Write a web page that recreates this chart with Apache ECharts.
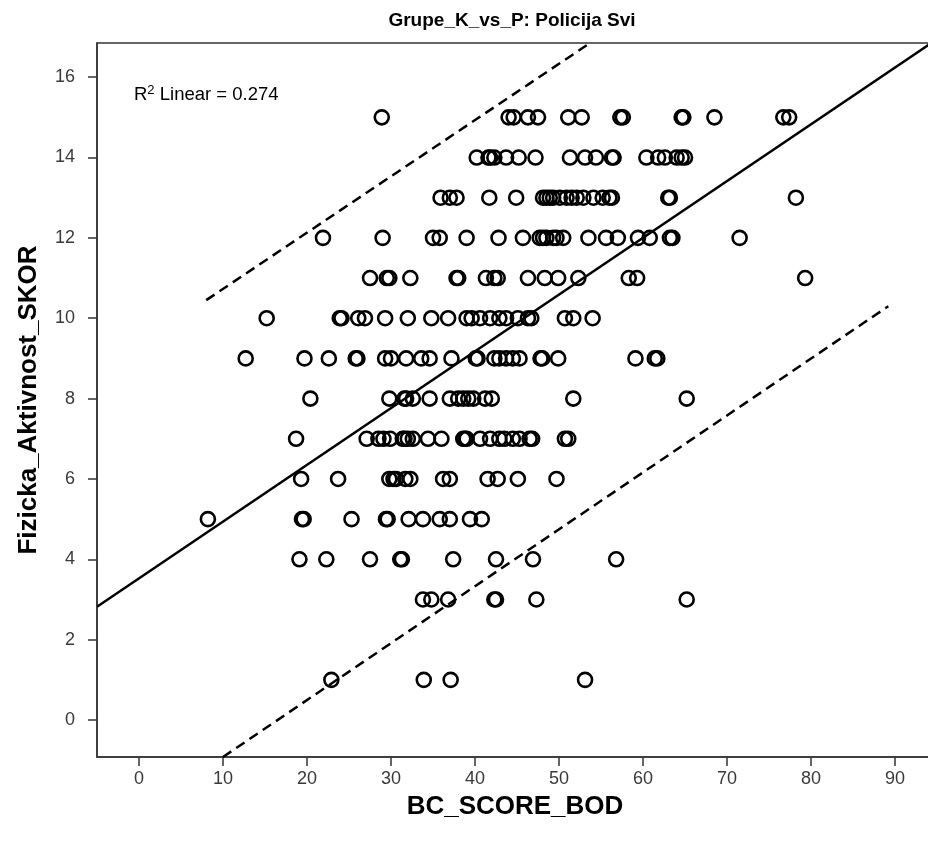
<!DOCTYPE html>
<html>
<head>
<meta charset="utf-8">
<title>Grupe_K_vs_P: Policija Svi</title>
<script src="https://cdn.jsdelivr.net/npm/echarts@6/dist/echarts.min.js"></script>
<style>
  html, body { margin: 0; padding: 0; background: #ffffff; }
  #chart { width: 928px; height: 846px; }
</style>
</head>
<body>
<div id="chart"></div>
<script>
// Axis ticks
const xTicks = [0, 10, 20, 30, 40, 50, 60, 70, 80, 90];
const yTicks = [0, 2, 4, 6, 8, 10, 12, 14, 16];

// BC_SCORE_BOD values for each Fizicka_Aktivnost_SKOR level
const bcAtSkor15 = [28.9, 44.0, 44.6, 46.3, 47.5, 51.1, 52.7, 57.3, 57.6, 64.6, 64.8, 68.5, 76.7, 77.4];
const bcAtSkor14 = [40.2, 41.6, 41.8, 42.3, 43.7, 45.2, 47.2, 51.3, 53.1, 54.4, 56.3, 56.5, 60.4, 61.8, 62.6, 64.0, 64.6, 65.0];
const bcAtSkor13 = [35.9, 37.0, 37.8, 41.7, 44.9, 48.1, 48.5, 48.9, 49.3, 50.1, 50.9, 51.5, 52.1, 52.9, 54.1, 55.2, 56.0, 56.3, 63.0, 63.2, 78.2];
const bcAtSkor12 = [21.9, 29.0, 35.0, 35.8, 39.0, 42.8, 45.7, 47.7, 48.1, 48.5, 49.3, 49.7, 50.5, 53.5, 55.6, 57.0, 59.4, 60.8, 63.2, 63.5, 71.5];
const bcAtSkor11 = [27.5, 29.5, 29.8, 32.3, 37.8, 38.0, 41.3, 42.3, 42.7, 46.3, 48.3, 49.9, 52.3, 58.3, 59.3, 79.3];
const bcAtSkor10 = [15.2, 23.9, 24.1, 26.1, 26.9, 29.3, 32.0, 34.8, 36.8, 39.0, 39.6, 40.6, 41.8, 42.9, 43.7, 45.1, 46.3, 46.7, 50.7, 51.7, 54.0];
const bcAtSkor9 = [12.7, 19.7, 22.6, 25.8, 26.0, 29.3, 30.0, 31.8, 33.6, 34.6, 37.2, 40.1, 40.3, 42.3, 42.9, 43.7, 44.5, 45.3, 47.8, 48.0, 49.9, 59.1, 61.4, 61.7];
const bcAtSkor8 = [20.4, 29.8, 31.6, 31.8, 32.6, 34.6, 37.0, 38.0, 38.6, 39.2, 39.8, 41.2, 42.0, 51.7, 65.2];
const bcAtSkor7 = [18.7, 27.1, 28.5, 29.1, 29.9, 31.4, 31.6, 32.0, 32.6, 34.4, 36.0, 38.6, 38.8, 39.0, 40.6, 41.8, 42.9, 43.5, 44.5, 45.3, 46.5, 46.8, 50.7, 51.1];
const bcAtSkor6 = [19.3, 23.7, 29.8, 30.3, 30.6, 31.7, 32.3, 36.2, 37.0, 41.5, 42.7, 45.1, 49.7];
const bcAtSkor5 = [8.2, 19.4, 19.6, 25.3, 29.4, 29.6, 32.1, 33.8, 35.8, 37.0, 39.4, 40.8];
const bcAtSkor4 = [19.1, 22.3, 27.5, 31.1, 31.3, 37.4, 42.5, 46.9, 56.8];
const bcAtSkor3 = [33.8, 34.8, 36.8, 42.3, 42.5, 47.3, 65.2];
const bcAtSkor1 = [22.9, 33.9, 37.1, 53.1];

// Fitted line and 95% individual prediction bounds (end points)
const fitLine = [[-5, 2.82], [94.6, 16.89]];
const upperBound = [[8.0, 10.45], [53.7, 16.85]];
const lowerBound = [[10.0, -0.92], [89.2, 10.30]];
const rSquared = '0.274';

const levels = [
  [15, bcAtSkor15], [14, bcAtSkor14], [13, bcAtSkor13], [12, bcAtSkor12],
  [11, bcAtSkor11], [10, bcAtSkor10], [9, bcAtSkor9], [8, bcAtSkor8],
  [7, bcAtSkor7], [6, bcAtSkor6], [5, bcAtSkor5], [4, bcAtSkor4],
  [3, bcAtSkor3], [1, bcAtSkor1]
];
const points = [];
levels.forEach(([skor, list]) => list.forEach(bc => points.push([bc, skor])));

const axisColor = '#333333';
const labelFont = 'Liberation Sans, Arial, sans-serif';

const chart = echarts.init(document.getElementById('chart'), null, { renderer: 'canvas' });

chart.setOption({
  animation: false,
  backgroundColor: '#ffffff',
  grid: {
    left: 97, top: 43, width: 836, height: 714,
    containLabel: false,
    outerBoundsMode: 'none',
    show: true, borderColor: axisColor, borderWidth: 1.5,
    backgroundColor: 'rgba(0,0,0,0)'
  },
  xAxis: {
    type: 'value',
    min: -5,
    max: 94.52,
    name: 'BC_SCORE_BOD',
    nameLocation: 'middle',
    nameGap: 37,
    nameTextStyle: { fontFamily: labelFont, fontWeight: 'bold', fontSize: 26, color: '#000' },
    axisLine: { show: true, onZero: false, lineStyle: { color: axisColor, width: 1.5 } },
    axisTick: { show: true, inside: false, customValues: xTicks, length: 9, lineStyle: { color: axisColor, width: 1.5 } },
    axisLabel: { customValues: xTicks, fontFamily: labelFont, fontSize: 18, color: '#3a3a3a', margin: 13 },
    splitLine: { show: false }
  },
  yAxis: {
    type: 'value',
    min: -0.92,
    max: 16.85,
    name: 'Fizicka_Aktivnost_SKOR',
    nameLocation: 'middle',
    nameGap: 55,
    nameTextStyle: { fontFamily: labelFont, fontWeight: 'bold', fontSize: 26, color: '#000' },
    axisLine: { show: true, onZero: false, lineStyle: { color: axisColor, width: 1.5 } },
    axisTick: { show: true, inside: false, customValues: yTicks, length: 9, lineStyle: { color: axisColor, width: 1.5 } },
    axisLabel: { customValues: yTicks, fontFamily: labelFont, fontSize: 18, color: '#3a3a3a', margin: 22 },
    splitLine: { show: false }
  },
  graphic: [
    {
      type: 'text',
      x: 512, y: 21,
      style: {
        text: 'Grupe_K_vs_P: Policija Svi',
        fontFamily: labelFont, fontWeight: 'bold', fontSize: 19,
        fill: '#000', textAlign: 'center', textVerticalAlign: 'middle'
      }
    },
    {
      type: 'text',
      x: 134, y: 84,
      style: {
        text: '{r|R}{s|2}{r| Linear = ' + rSquared + '}',
        fill: '#000',
        rich: {
          r: { fontFamily: labelFont, fontSize: 18.5, lineHeight: 22, fill: '#000' },
          s: { fontFamily: labelFont, fontSize: 13, lineHeight: 13, verticalAlign: 'top', fill: '#000' }
        }
      }
    }
  ],
  series: [
    {
      type: 'line',
      data: fitLine,
      showSymbol: false,
      lineStyle: { color: '#000', width: 2.5 },
      z: 3
    },
    {
      type: 'line',
      data: upperBound,
      showSymbol: false,
      lineStyle: { color: '#000', width: 2.5, type: [10, 6] },
      z: 3
    },
    {
      type: 'line',
      data: lowerBound,
      showSymbol: false,
      lineStyle: { color: '#000', width: 2.5, type: [10, 6] },
      z: 3
    },
    {
      type: 'scatter',
      data: points,
      symbol: 'circle',
      symbolSize: 14,
      itemStyle: { color: 'rgba(0,0,0,0)', borderColor: '#000', borderWidth: 2.6, opacity: 1 },
      z: 4
    }
  ]
});
</script>
</body>
</html>
